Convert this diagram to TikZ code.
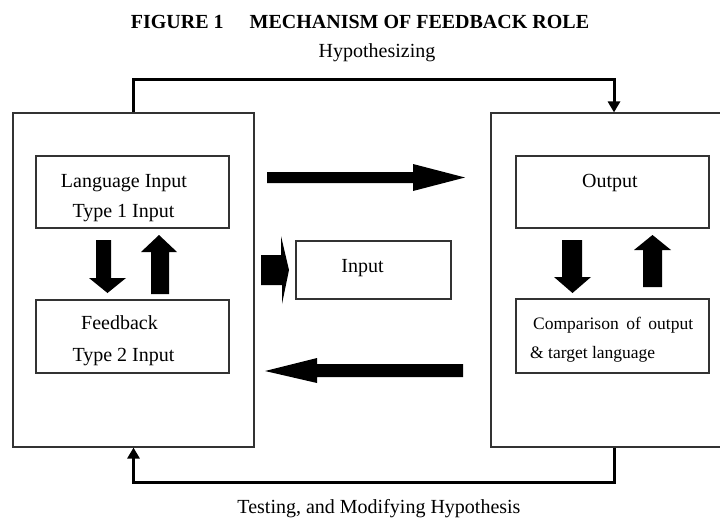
\documentclass[tikz,border=0pt]{standalone}
\usepackage{fontspec}
\setmainfont{Liberation Serif}
\usetikzlibrary{arrows.meta}
\begin{document}
\begin{tikzpicture}[x=1pt,y=-1pt,
  box/.style={draw=black!80, line width=1.1pt, inner sep=0pt},
  conn/.style={line width=3pt, -{Triangle[width=12pt,length=11pt]}},
  blk/.style={fill=black},
  txt/.style={font=\fontsize{20}{24}\selectfont, anchor=base, inner sep=0pt},
  smalltxt/.style={font=\fontsize{17.5}{21}\selectfont, anchor=base west, inner sep=0pt}]
\useasboundingbox (0,0) rectangle (720,517);
\clip (0,0) rectangle (720,517);

% titles
\node[txt, font=\fontsize{20}{24}\selectfont\bfseries] (title) at (360,28) {FIGURE 1\hspace{26pt}MECHANISM OF FEEDBACK ROLE};
\node[txt] (hyp) at (377,57) {Hypothesizing};
\node[txt] (test) at (379,513) {Testing, and Modifying Hypothesis};

% big boxes
\node[box, minimum width=241pt, minimum height=334pt] (lb) at (133.5,280) {};
\node[box, minimum width=246pt, minimum height=334pt] (rb) at (614,280) {};

% inner boxes
\node[box, minimum width=193pt, minimum height=72pt] (lang) at (132.5,192) {};
\node[box, minimum width=193pt, minimum height=73pt] (fb) at (132.5,336.5) {};
\node[box, minimum width=193pt, minimum height=72pt] (out) at (612.5,192) {};
\node[box, minimum width=193pt, minimum height=74pt] (cmp) at (612.5,336) {};
\node[box, minimum width=155pt, minimum height=58pt] (inp) at (373.5,270) {};

% texts
\node[txt] (t1) at (124,187) {Language Input};
\node[txt] (t2) at (123.5,217) {Type 1 Input};
\node[txt] (t3) at (119.5,329) {Feedback};
\node[txt] (t4) at (123.5,361) {Type 2 Input};
\node[txt] (t5) at (610,187) {Output};
\node[txt] (t6) at (362.5,272) {Input};
\node[smalltxt] (t7) at (533,329) {\makebox[160pt][s]{Comparison of output}};
\node[smalltxt] (t8) at (530,358) {\& target language};

% hypothesis loops
\draw[conn] (lb.north) -- ++(0,-33) -| (rb.north);
\draw[conn] (rb.south) -- ++(0,35) -| (lb.south);

% block arrows
\fill[blk] (267,172) -- (413,172) -- (413,164) -- (465,177.5) -- (413,191) -- (413,183) -- (267,183) -- cycle;
\fill[blk] (261,255) -- (281,255) -- (281,236) -- (289,270) -- (282,304) -- (282,285) -- (261,285) -- cycle;
\fill[blk] (463,364) -- (317,364) -- (317,358) -- (265,371) -- (317,383) -- (317,377) -- (463,377) -- cycle;
% left pair
\fill[blk] (96,240) -- (111,240) -- (111,278) -- (126,278) -- (107.5,293) -- (89,278) -- (96,278) -- cycle;
\fill[blk] (151,294) -- (169,294) -- (169,252) -- (177,252) -- (159,235) -- (141,252) -- (151,252) -- cycle;
% right pair
\fill[blk] (562,240) -- (582,240) -- (582,277) -- (591,277) -- (572.5,293) -- (554,277) -- (562,277) -- cycle;
\fill[blk] (643,287) -- (662,287) -- (662,250) -- (671,250) -- (652.5,235) -- (634,250) -- (643,250) -- cycle;
\end{tikzpicture}
\end{document}
